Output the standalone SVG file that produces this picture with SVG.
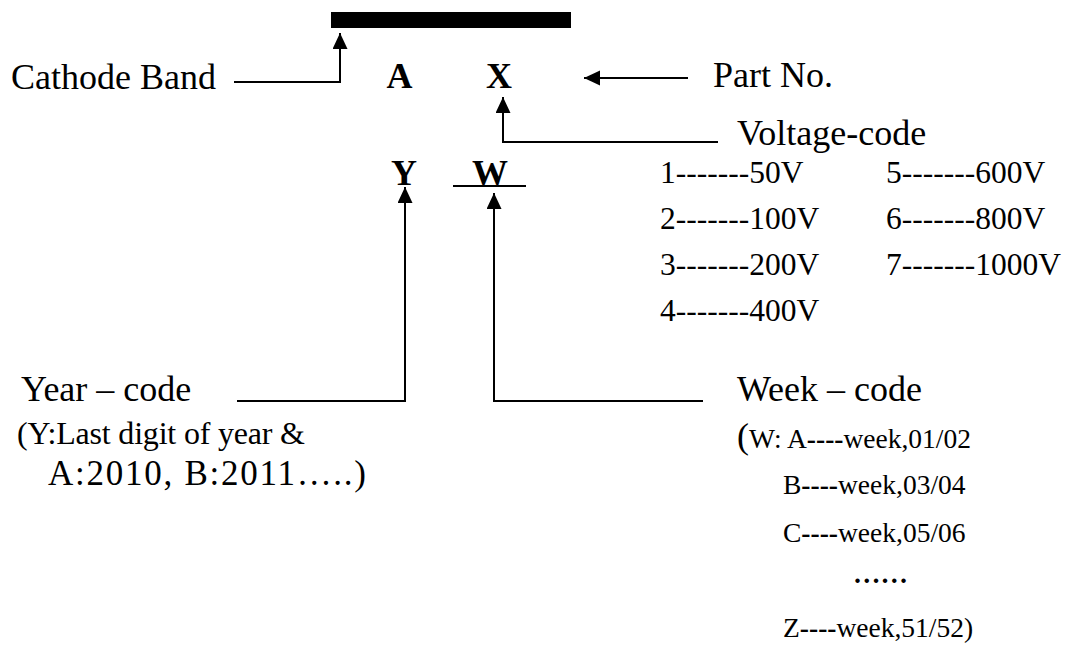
<svg xmlns="http://www.w3.org/2000/svg" width="1070" height="646" viewBox="0 0 1070 646">
<style>
text{font-family:"Liberation Serif","Times New Roman",serif;fill:#000}
.lg{font-size:36px}
.bd{font-size:36px;font-weight:bold}
.md{font-size:31.5px}
.sm{font-size:27.5px}
.yr{font-size:32px}
.conn{fill:none;stroke:#000;stroke-width:2}
</style>
<defs>
<marker id="ah" markerUnits="userSpaceOnUse" markerWidth="16" markerHeight="16" refX="16" refY="7.5" orient="auto">
<path d="M0,0 L16,7.5 L0,15 z" fill="#000"/>
</marker>
</defs>
<rect width="1070" height="646" fill="#fff"/>
<g id="band"><rect x="331" y="12" width="240" height="16" fill="#000"/></g>
<g id="cathode-label"><text class="lg" x="11" y="89">Cathode Band</text></g>
<g id="letter-A"><text class="bd" x="399.5" y="88" text-anchor="middle">A</text></g>
<g id="letter-X"><text class="bd" x="499" y="88" text-anchor="middle">X</text></g>
<g id="partno-label"><text class="lg" x="713" y="87">Part No.</text></g>
<g id="voltage-label"><text class="lg" x="737" y="145">Voltage-code</text></g>
<g id="voltage-table">
<text class="md" x="660" y="183">1-------50V</text>
<text class="md" x="660" y="229">2-------100V</text>
<text class="md" x="660" y="275">3-------200V</text>
<text class="md" x="660" y="321">4-------400V</text>
<text class="md" x="886" y="183">5-------600V</text>
<text class="md" x="886" y="229">6-------800V</text>
<text class="md" x="886" y="275">7-------1000V</text>
</g>
<g id="letter-Y"><text class="bd" x="404" y="185" text-anchor="middle">Y</text></g>
<g id="letter-W"><text class="bd" x="490" y="185" text-anchor="middle">W</text><line x1="453" y1="186" x2="526" y2="186" stroke="#000" stroke-width="2"/></g>
<g id="year-label">
<text class="lg" x="21" y="401">Year – code</text>
<text class="yr" x="17" y="444" textLength="288" lengthAdjust="spacing">(Y:Last digit of year &amp;</text>
<text style="font-size:35px" x="48" y="485" textLength="318" lengthAdjust="spacing">A:2010, B:2011…..)</text>
</g>
<g id="week-label">
<text class="lg" x="737" y="401">Week – code</text>
<text x="737" y="448"><tspan style="font-size:36px">(</tspan><tspan class="sm">W: </tspan><tspan class="sm">A</tspan><tspan class="sm" font-weight="bold">----</tspan><tspan class="sm">week,01/02</tspan></text>
<text x="783" y="494"><tspan class="sm">B</tspan><tspan class="sm" font-weight="bold">----</tspan><tspan class="sm">week,03/04</tspan></text>
<text x="783" y="542"><tspan class="sm">C</tspan><tspan class="sm" font-weight="bold">----</tspan><tspan class="sm">week,05/06</tspan></text>
<text class="sm" x="853" y="583" font-weight="bold">……</text>
<text x="783" y="637"><tspan class="sm">Z</tspan><tspan class="sm" font-weight="bold">----</tspan><tspan class="sm">week,51/52)</tspan></text>
</g>
<g id="connectors">
<polyline class="conn" points="234,82 340,82 340,33" marker-end="url(#ah)"/>
<line class="conn" x1="688" y1="78" x2="584" y2="78" marker-end="url(#ah)"/>
<polyline class="conn" points="718,142 503,142 503,97" marker-end="url(#ah)"/>
<polyline class="conn" points="237,401 405,401 405,187" marker-end="url(#ah)"/>
<polyline class="conn" points="703,401 494,401 494,193" marker-end="url(#ah)"/>
</g>
</svg>
